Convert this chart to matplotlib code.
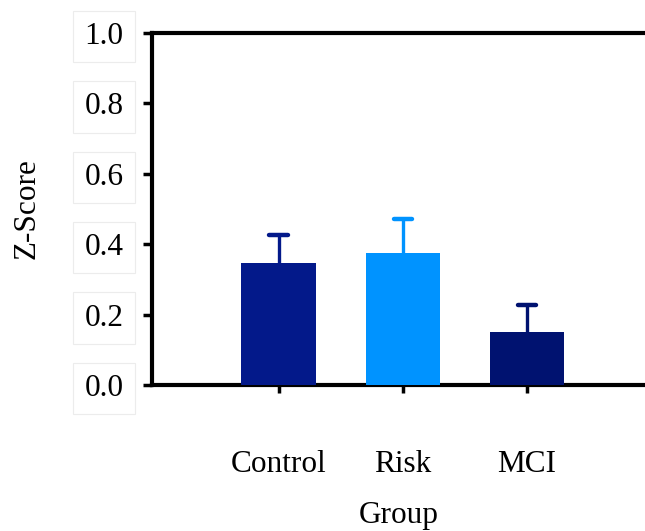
import matplotlib
matplotlib.use("Agg")
import matplotlib.pyplot as plt

groups = ["Control", "Risk", "MCI"]
means = [0.346, 0.374, 0.150]
sem = [0.080, 0.097, 0.076]
colors = ["#03198A", "#0093FF", "#001270"]
yticks = [0.0, 0.2, 0.4, 0.6, 0.8, 1.0]

plt.rcParams['font.family'] = ['Liberation Serif', 'DejaVu Serif']

fig = plt.figure(figsize=(6.45, 5.31), dpi=100)
ax = fig.add_axes([152/645, 1-385/531, 1-152/645, (385-33)/531])

x = list(range(len(groups)))
ax.bar(x, means, width=0.6, color=colors, zorder=3)
capw = 0.075
for xi, m, e, c in zip(x, means, sem, colors):
    ax.vlines(xi, m, m + e, color=c, linewidth=2.4, zorder=2)
    ax.hlines(m + e, xi - capw, xi + capw, color=c, linewidth=3.2,
              capstyle="round", zorder=2)

ax.set_xlim(-1.02, 2.95)
ax.set_ylim(0, 1.0)
ax.set_yticks(yticks)
ax.set_yticklabels([f"{v:.1f}" for v in yticks])
ax.set_xticks(x)
ax.set_xticklabels(groups)

for s in ["left", "bottom", "top"]:
    ax.spines[s].set_linewidth(3)
ax.spines["right"].set_visible(False)

ax.tick_params(axis="y", length=6.5, width=2.5, pad=14, labelsize=22.5)
ax.tick_params(axis="x", length=6, width=2.5, pad=41, labelsize=22.5)
for lab in ax.get_yticklabels():
    lab.set_bbox(dict(facecolor="white", edgecolor="#ececec", linewidth=0.8,
                      boxstyle="square,pad=0.36"))

ax.set_ylabel("Z-Score", fontsize=22.5, labelpad=31)
ax.set_xlabel("Group", fontsize=22.5, labelpad=16)

fig.savefig("out.png", dpi=100)
